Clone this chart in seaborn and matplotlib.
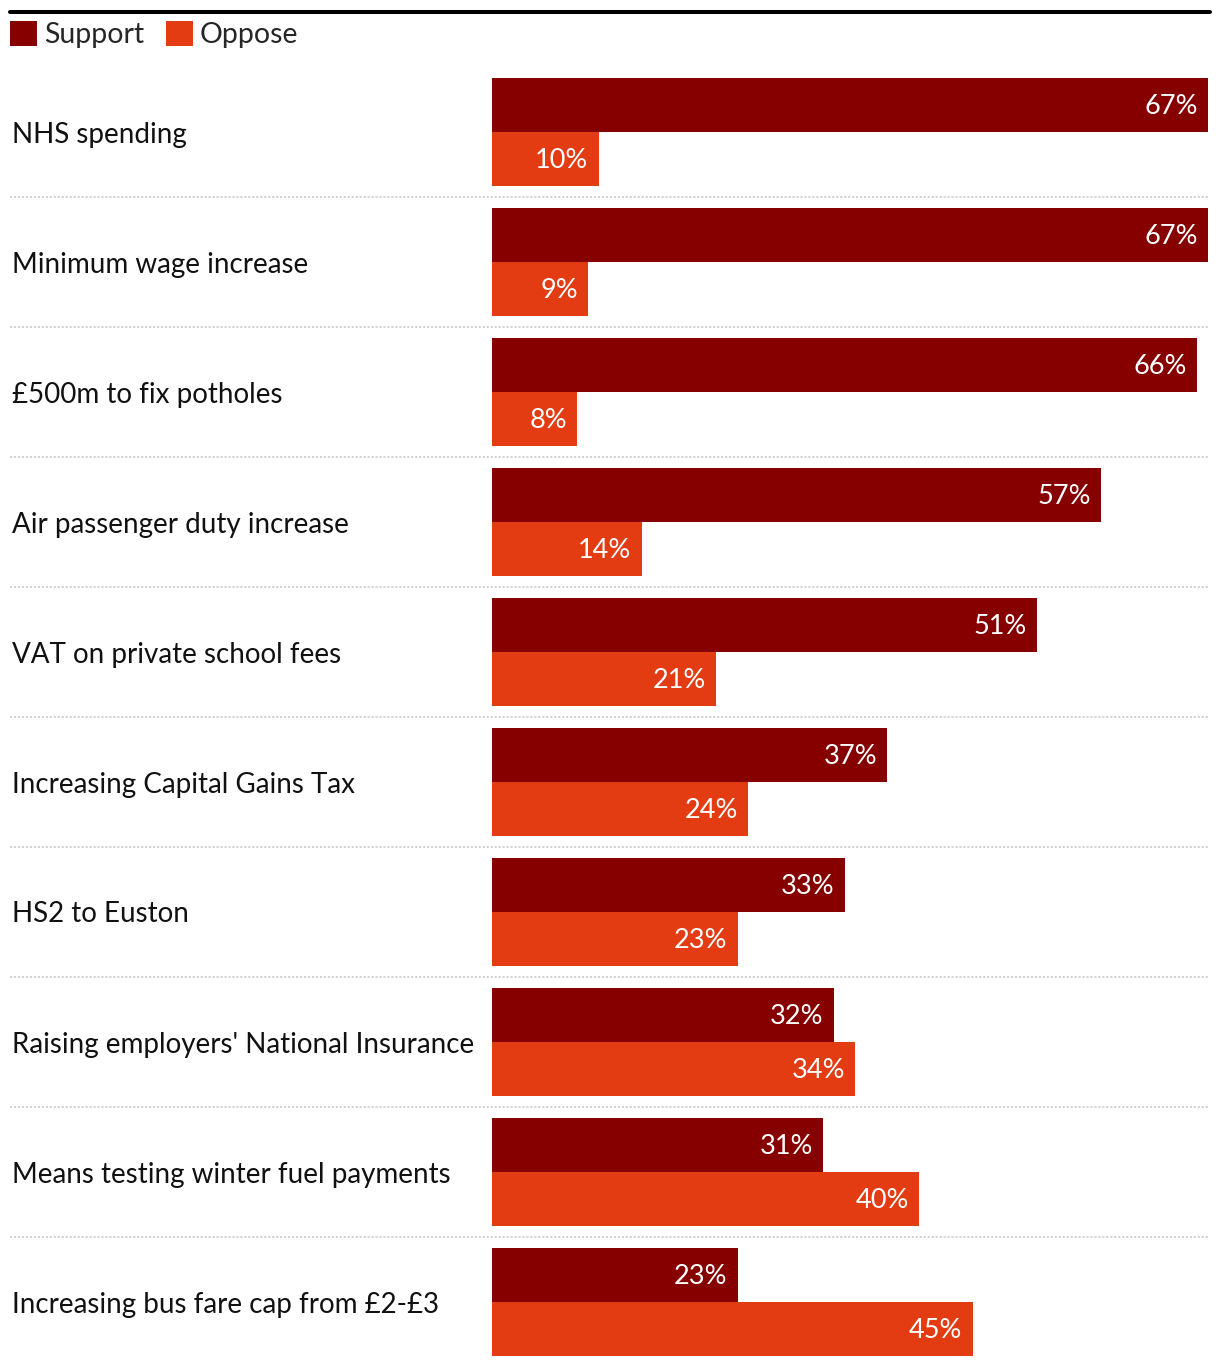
import matplotlib
matplotlib.use("Agg")
import matplotlib.pyplot as plt
from matplotlib.lines import Line2D
import seaborn as sns
import pandas as pd

categories = [
    "NHS spending",
    "Minimum wage increase",
    "£500m to fix potholes",
    "Air passenger duty increase",
    "VAT on private school fees",
    "Increasing Capital Gains Tax",
    "HS2 to Euston",
    "Raising employers' National Insurance",
    "Means testing winter fuel payments",
    "Increasing bus fare cap from £2-£3",
]
support = [67, 67, 66, 57, 51, 37, 33, 32, 31, 23]
oppose = [10, 9, 8, 14, 21, 24, 23, 34, 40, 45]
series = ["Support", "Oppose"]
colors = {"Support": "#860000", "Oppose": "#e33c13"}

df = pd.DataFrame({
    "category": categories * 2,
    "value": support + oppose,
    "series": ["Support"] * len(categories) + ["Oppose"] * len(categories),
})

sns.set_theme(style="white")
plt.rcParams["font.family"] = ["Lato", "DejaVu Sans"]

W, H = 1220, 1368
fig = plt.figure(figsize=(W / 100, H / 100), dpi=100)
ax_left, ax_right = 492, 1208
ax_top, ax_bottom = 67, 1367
ax = fig.add_axes([ax_left / W, 1 - ax_bottom / H, (ax_right - ax_left) / W, (ax_bottom - ax_top) / H])

sns.barplot(data=df, y="category", x="value", hue="series", hue_order=series,
            palette=colors, orient="h", width=0.83, saturation=1, ax=ax,
            edgecolor="none", linewidth=0)

ax.set_xlim(0, 67)
ax.set_ylim(len(categories) - 0.5, -0.5)
for s in ax.spines.values():
    s.set_visible(False)
ax.set_xticks([])
ax.set_xlabel("")
ax.set_ylabel("")
ax.tick_params(axis="y", length=0, pad=(ax_left - 12) * 0.72, labelsize=20, labelcolor="#111111")
for lbl in ax.get_yticklabels():
    lbl.set_horizontalalignment("left")

# value labels
for cont in ax.containers:
    for bar in cont:
        w = bar.get_width()
        yc = bar.get_y() + bar.get_height() / 2
        ax.annotate(f"{w:.0f}%", (w, yc), xytext=(-7.5, -1), textcoords="offset points",
                    ha="right", va="center", color="white", fontsize=19.5)

# separators
frac_left = (10 - ax_left) / (ax_right - ax_left)
for i in range(len(categories) - 1):
    ax.plot([frac_left, 1], [i + 0.5, i + 0.5], transform=ax.get_yaxis_transform(),
            color="#cfcfcf", lw=1.3, linestyle=(0, (1.2, 1.0)), clip_on=False)

# legend
sns.move_legend(ax, "upper left", bbox_to_anchor=(10 / W, 1 - 21 / H),
                bbox_transform=fig.transFigure, ncol=2, frameon=False, title=None,
                fontsize=20.5, handlelength=0.95, handleheight=0.95, handletextpad=0.25,
                columnspacing=0.75, borderpad=0, borderaxespad=0)

# top rule
fig.add_artist(Line2D([10 / W, 1210 / W], [1 - 12 / H, 1 - 12 / H], color="black", lw=2.9,
                      transform=fig.transFigure))

fig.savefig("out.png", dpi=100)
